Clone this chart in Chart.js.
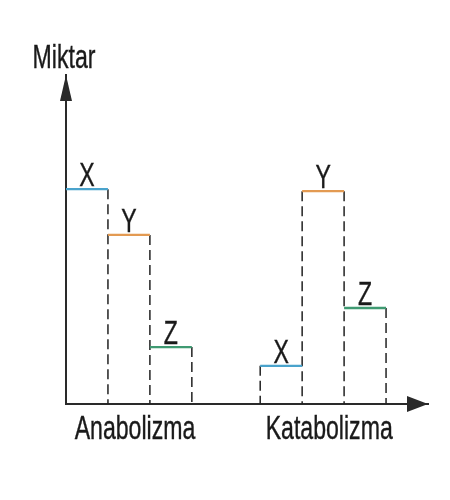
<!DOCTYPE html>
<html>
<head>
<meta charset="utf-8">
<script src="https://cdn.jsdelivr.net/npm/chart.js@4.4.1/dist/chart.umd.min.js"></script>
<style>
  html, body { margin: 0; padding: 0; background: #ffffff; }
  #wrap { width: 450px; height: 500px; position: relative; }
</style>
</head>
<body>
<div id="wrap"><canvas id="c"></canvas></div>
<script>
// ---- data ----
const groupLabels = ['Anabolizma', 'Katabolizma'];
const seriesNames = ['X', 'Y', 'Z'];
const anabolizmaValues = [65.3, 51.4, 17.3];
const katabolizmaValues = [11.6, 64.7, 29.2];
const yAxisTitle = 'Miktar';

// ---- layout / style (not data) ----
const groupValues = [anabolizmaValues, katabolizmaValues];
const groupStart = [0, 4.56];
const BAR_W = 0.985;
const seriesColors = ['#4aa3cc', '#e39a52', '#3f9a72'];
const AXIS_COLOR = '#2a2a2a';
const TEXT_COLOR = '#1a1a1a';
const FONT = "33px 'Liberation Sans', Arial, sans-serif";
const NARROW = 0.7; // horizontal compression to mimic a narrow face

const datasets = [];
const letterPoints = [];
groupValues.forEach((vals, g) => {
  vals.forEach((v, i) => {
    const x0 = groupStart[g] + i * BAR_W;
    const x1 = x0 + BAR_W;
    datasets.push({
      data: [{x: x0, y: v}, {x: x1, y: v}],
      showLine: true, pointRadius: 0, borderWidth: 2.4,
      borderColor: seriesColors[i], order: 1
    });
    letterPoints.push({x: (x0 + x1) / 2, y: v, text: seriesNames[i]});
  });
  for (let k = 0; k <= vals.length; k++) {
    const left = k > 0 ? vals[k - 1] : 0;
    const right = k < vals.length ? vals[k] : 0;
    const h = Math.max(left, right);
    const xe = groupStart[g] + k * BAR_W;
    if (xe === 0) continue;
    datasets.push({
      data: [{x: xe, y: h}, {x: xe, y: 0}],
      showLine: true, pointRadius: 0, borderWidth: 1.5,
      borderColor: '#222', borderDash: [10, 5], order: 2
    });
  }
});
const groupTicks = groupStart.map(s => s + 1.62);

function narrowText(ctx, text, x, y) {
  ctx.save();
  ctx.translate(x, y);
  ctx.scale(NARROW, 1);
  ctx.fillText(text, 0, 0);
  ctx.strokeText(text, 0, 0);
  ctx.restore();
}

const decorPlugin = {
  id: 'decor',
  afterDatasetsDraw(chart) {
    const {ctx, chartArea, scales} = chart;
    const xs = scales.x, ys = scales.y;
    ctx.save();
    ctx.fillStyle = TEXT_COLOR;
    ctx.strokeStyle = TEXT_COLOR;
    ctx.lineWidth = 0.4;
    ctx.font = FONT;
    ctx.textAlign = 'center';
    ctx.textBaseline = 'alphabetic';
    letterPoints.forEach(p => {
      narrowText(ctx, p.text, xs.getPixelForValue(p.x), ys.getPixelForValue(p.y) - 3);
    });
    const ay = ys.getPixelForValue(0);
    groupTicks.forEach((v, i) => {
      narrowText(ctx, groupLabels[i], xs.getPixelForValue(v), ay + 35);
    });
    const ax = xs.getPixelForValue(0);
    narrowText(ctx, yAxisTitle, ax - 2, chartArea.top - 7);
    ctx.fillStyle = AXIS_COLOR;
    ctx.beginPath();
    ctx.moveTo(ax, chartArea.top);
    ctx.lineTo(ax - 6, chartArea.top + 26);
    ctx.lineTo(ax + 6, chartArea.top + 26);
    ctx.closePath();
    ctx.fill();
    ctx.beginPath();
    ctx.moveTo(chartArea.right, ay);
    ctx.lineTo(chartArea.right - 21, ay - 8);
    ctx.lineTo(chartArea.right - 21, ay + 8);
    ctx.closePath();
    ctx.fill();
    ctx.restore();
  }
};

new Chart(document.getElementById('c'), {
  type: 'scatter',
  data: { datasets },
  options: {
    responsive: true,
    maintainAspectRatio: false,
    animation: false,
    layout: { padding: { left: 66, right: 22, top: 75, bottom: 96 } },
    plugins: { legend: { display: false }, tooltip: { enabled: false } },
    scales: {
      x: {
        type: 'linear', min: 0, max: 8.5,
        grid: { display: false, drawTicks: false },
        border: { display: true, color: AXIS_COLOR, width: 2 },
        ticks: { display: false }
      },
      y: {
        type: 'linear', min: 0, max: 100,
        grid: { display: false, drawTicks: false },
        border: { display: true, color: AXIS_COLOR, width: 2 },
        ticks: { display: false }
      }
    }
  },
  plugins: [decorPlugin]
});
</script>
</body>
</html>
